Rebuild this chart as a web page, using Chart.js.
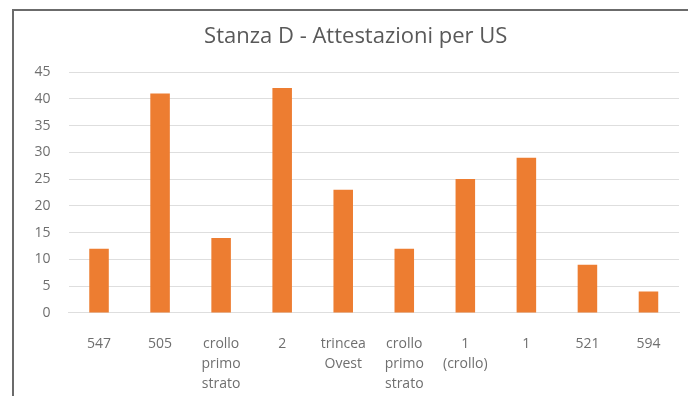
<!DOCTYPE html>
<html>
<head>
<meta charset="utf-8">
<script src="https://cdn.jsdelivr.net/npm/chart.js@4"></script>
<style>
  html, body { margin: 0; padding: 0; background: #fff; overflow: hidden; }
  body { width: 688px; height: 396px; position: relative; }
  #frame {
    position: absolute; left: 12px; top: 9px; width: 700px; height: 400px;
    border-left: 2px solid #6b6b6b; border-top: 2px solid #6b6b6b;
  }
  #chart { position: absolute; left: 14px; top: 11px; }
</style>
</head>
<body>
<div id="frame"></div>
<canvas id="chart" width="690" height="405"></canvas>
<script>
// US labels (multi-line where the axis wraps them) and counts per US
const categories = [
  '547',
  '505',
  ['crollo', 'primo', 'strato'],
  '2',
  ['trincea', 'Ovest'],
  ['crollo', 'primo', 'strato'],
  ['1', '(crollo)'],
  '1',
  '521',
  '594'
];
const counts = [12, 41, 14, 42, 23, 12, 25, 29, 9, 4];
const yTicks = [0, 5, 10, 15, 20, 25, 30, 35, 40, 45];

const textColor = '#6f6f6f';
const gridColor = '#dedede';
const barColor = '#ED7D31';
const fontFamily = "'Open Sans', sans-serif";

const ctx = document.getElementById('chart').getContext('2d');
new Chart(ctx, {
  type: 'bar',
  data: {
    labels: categories,
    datasets: [{
      label: 'Attestazioni',
      data: counts,
      backgroundColor: barColor,
      borderWidth: 0,
      categoryPercentage: 1,
      barPercentage: 0.32
    }]
  },
  options: {
    responsive: false,
    animation: false,
    layout: {
      padding: { top: 0, left: 18.5, right: 25, bottom: 1 }
    },
    plugins: {
      legend: { display: false },
      tooltip: { enabled: false },
      title: {
        display: true,
        text: 'Stanza D - Attestazioni per US',
        color: '#595959',
        font: { family: fontFamily, size: 22, weight: 'normal', lineHeight: 1.2 },
        padding: { top: 13, bottom: 21.6 }
      }
    },
    scales: {
      x: {
        grid: { display: false, drawTicks: false },
        border: { display: true, color: gridColor, width: 1 },
        ticks: {
          color: textColor,
          padding: 21,
          maxRotation: 0,
          autoSkip: false,
          font: { family: fontFamily, size: 14, lineHeight: 1.43 }
        }
      },
      y: {
        min: 0,
        max: 45,
        afterBuildTicks: (axis) => {
          axis.ticks = yTicks.map(v => ({ value: v }));
        },
        afterFit: (axis) => {
          axis.width = 36;
        },
        grid: { color: gridColor, drawTicks: false },
        border: { display: false },
        ticks: {
          color: textColor,
          padding: 18,
          font: { family: fontFamily, size: 14 }
        }
      }
    }
  }
});
</script>
</body>
</html>
